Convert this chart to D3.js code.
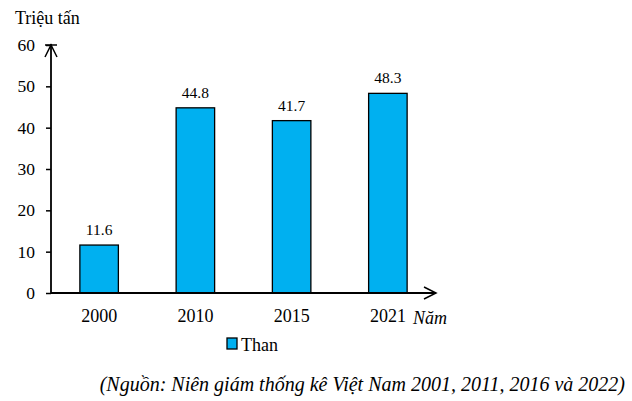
<!DOCTYPE html>
<html><head><meta charset="utf-8">
<script src="https://cdn.jsdelivr.net/npm/d3@7"></script>
</head><body style="margin:0;background:#fff">
<script>
const categories = ["2000","2010","2015","2021"];
const values = [11.6, 44.8, 41.7, 48.3];
const yTicks = [0,10,20,30,40,50,60];
const seriesName = "Than";

const FONT="Liberation Serif";
const W=632,H=401;
const svg=d3.select("body").append("svg").attr("width",W).attr("height",H).style("display","block");
const x0=51, y0=293;
const x=d3.scaleBand().domain(categories).range([x0,436]).paddingInner(0.6).paddingOuter(0.3);
const y=d3.scaleLinear().domain([0,60]).range([y0,45]);

function T(sel){ return sel.attr("font-family",FONT).attr("fill","#000"); }

// bars
svg.selectAll("rect.bar").data(values).enter().append("rect")
 .attr("x",(d,i)=>x(categories[i])).attr("width",x.bandwidth())
 .attr("y",d=>y(d)).attr("height",d=>y(0)-y(d))
 .attr("fill","#00B0F0").attr("stroke","#000").attr("stroke-width",1.3);
T(svg.selectAll("text.val").data(values).enter().append("text")
 .attr("x",(d,i)=>x(categories[i])+x.bandwidth()/2).attr("y",d=>y(d)-10)
 .attr("text-anchor","middle").attr("font-size",15.5).text(d=>d.toFixed(1)));

// y axis
const ya=svg.append("g").attr("transform",`translate(${x0},0)`)
 .call(d3.axisLeft(y).tickValues(yTicks).tickSize(5).tickPadding(11));
ya.attr("font-family",FONT).attr("font-size",17.5);
ya.select(".domain").remove();
ya.selectAll("line").attr("stroke","#000").attr("stroke-width",1.5);
T(ya.selectAll("text"));
svg.append("line").attr("x1",x0).attr("x2",x0).attr("y1",y0).attr("y2",44).attr("stroke","#000").attr("stroke-width",1.8);
svg.append("line").attr("x1",x0-6).attr("x2",x0+6).attr("y1",y(60)).attr("y2",y(60)).attr("stroke","#000").attr("stroke-width",1.5);
svg.append("path").attr("d",`M${x0-6},${y(60)+12}L${x0},${y(60)}L${x0+6},${y(60)+12}`).attr("fill","none").attr("stroke","#000").attr("stroke-width",1.5);

// x axis
svg.append("line").attr("x1",x0).attr("x2",436).attr("y1",y0).attr("y2",y0).attr("stroke","#000").attr("stroke-width",1.8);
svg.append("path").attr("d",`M424,${y0-6}L436,${y0}L424,${y0+6}`).attr("fill","none").attr("stroke","#000").attr("stroke-width",1.5);
T(svg.selectAll("text.cat").data(categories).enter().append("text")
 .attr("x",d=>x(d)+x.bandwidth()/2).attr("y",322).attr("text-anchor","middle").attr("font-size",18).text(d=>d));

T(svg.append("text").attr("x",15).attr("y",24).attr("font-size",18).text("Triệu tấn"));
T(svg.append("text").attr("x",413).attr("y",324).attr("font-size",18).attr("font-style","italic").text("Năm"));

// legend
svg.append("rect").attr("x",227).attr("y",338).attr("width",10).attr("height",11).attr("fill","#00B0F0").attr("stroke","#000").attr("stroke-width",1.3);
T(svg.append("text").attr("x",241).attr("y",351).attr("font-size",18).text(seriesName));

T(svg.append("text").attr("x",625).attr("y",391).attr("text-anchor","end").attr("font-size",20).attr("font-style","italic")
 .text("(Nguồn: Niên giám thống kê Việt Nam 2001, 2011, 2016 và 2022)"));
</script>
</body></html>
